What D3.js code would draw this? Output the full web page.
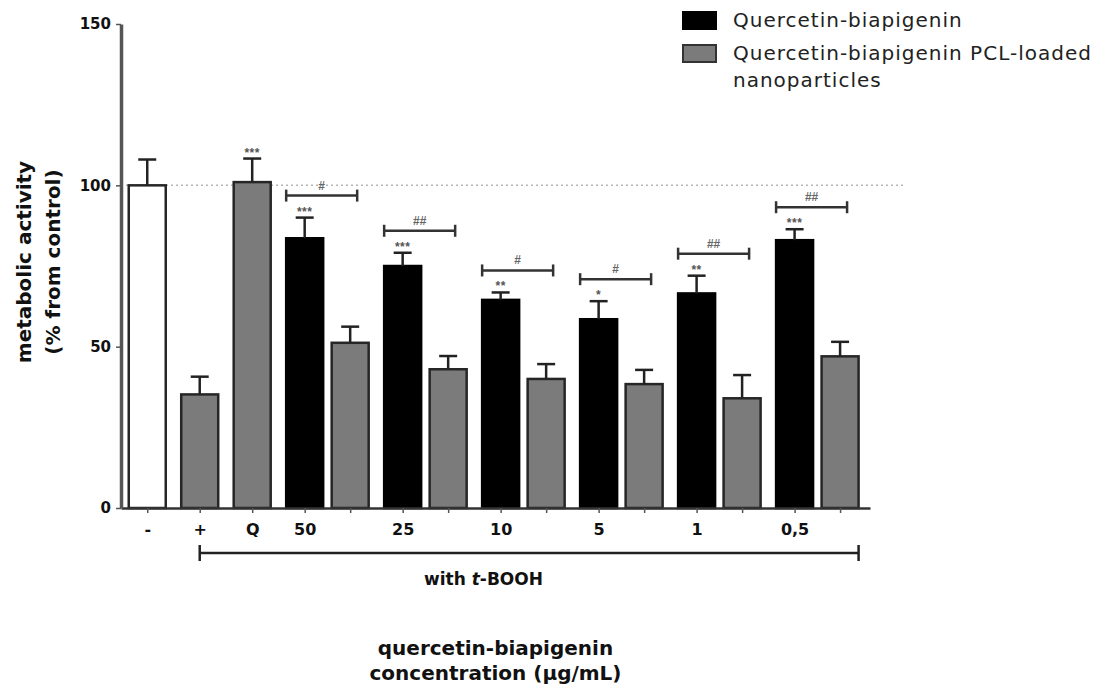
<!DOCTYPE html>
<html>
<head>
<meta charset="utf-8">
<script src="https://cdn.jsdelivr.net/npm/d3@7"></script>
<style>
body { margin: 0; background: #fff; }
svg { font-family: "DejaVu Sans", "Liberation Sans", Arial, sans-serif; }
</style>
</head>
<body>
<svg class="grafico" width="1106" height="685"></svg>
<script>
// dados
const barGroup  = ["-", "+", "Q", "50", "50", "25", "25", "10", "10", "5", "5", "1", "1", "0,5", "0,5"];
const barSeries = ["ctrl", "tbooh", "quercetin", "free", "nano", "free", "nano", "free", "nano", "free", "nano", "free", "nano", "free", "nano"];
const means     = [100, 35.2, 101, 83.6, 51.2, 75, 43, 64.5, 40, 58.5, 38.4, 66.5, 34, 83, 47];
const errors    = [8, 5.5, 7.3, 6.4, 5, 4.1, 4.1, 2.3, 4.6, 5.6, 4.4, 5.5, 7.2, 3.4, 4.5];
const stars     = ["", "", "***", "***", "", "***", "", "**", "", "*", "", "**", "", "***", ""];
const hashGroups = ["50", "25", "10", "5", "1", "0,5"];
const hashLabels = ["#", "##", "#", "#", "##", "##"];
const yTicks = [0, 50, 100, 150];
const legendLabels = [["Quercetin-biapigenin"], ["Quercetin-biapigenin PCL-loaded", "nanoparticles"]];

const width = 1106;
const height = 685;
const margin = { top: 24, right: 236, bottom: 177, left: 121 };
const fills = { ctrl: "#ffffff", tbooh: "#7b7b7b", quercetin: "#7b7b7b", free: "#000000", nano: "#7b7b7b" };
const boldFont = "DejaVu Sans, Liberation Sans, Arial, sans-serif";

// posicao de cada barra: barras do mesmo grupo ficam mais juntas
const innerRatio = 0.867;
const slots = [];
barGroup.forEach((g, i) => {
    if (i === 0) slots.push(0);
    else slots.push(slots[i - 1] + (g === barGroup[i - 1] ? innerRatio : 1));
});
const lastSlot = slots[slots.length - 1];

const bars = barGroup.map((g, i) => ({
    group: g, series: barSeries[i], mean: means[i], err: errors[i], stars: stars[i], slot: slots[i],
    first: i === 0 || g !== barGroup[i - 1]
}));

const svg = d3.select(".grafico");

const x = d3.scaleLinear()
    .domain([-0.5, lastSlot + 0.57])
    .range([margin.left, width - margin.right]);

const y = d3.scaleLinear()
    .domain([0, 150])
    .range([height - margin.bottom, margin.top]);

const barW = 37;

// linha pontilhada em 100%
svg.append("line")
    .attr("x1", margin.left)
    .attr("x2", width - margin.right + 36)
    .attr("y1", y(100))
    .attr("y2", y(100))
    .attr("stroke", "#b5b5b5")
    .attr("stroke-width", 1.5)
    .attr("stroke-dasharray", "2,3");

// barras
svg.append("g")
    .selectAll("rect")
    .data(bars)
    .join("rect")
    .attr("x", d => x(d.slot) - barW / 2)
    .attr("y", d => y(d.mean))
    .attr("width", barW)
    .attr("height", d => y(0) - y(d.mean))
    .attr("fill", d => fills[d.series])
    .attr("stroke", d => d.series === "free" ? "#000" : "#262626")
    .attr("stroke-width", 2.5);

// barras de erro
const eb = svg.append("g")
    .attr("stroke", "#222")
    .attr("stroke-width", 2.5);

eb.selectAll("line.v")
    .data(bars)
    .join("line")
    .attr("class", "v")
    .attr("x1", d => x(d.slot))
    .attr("x2", d => x(d.slot))
    .attr("y1", d => y(d.mean))
    .attr("y2", d => y(d.mean + d.err));

eb.selectAll("line.cap")
    .data(bars)
    .join("line")
    .attr("class", "cap")
    .attr("x1", d => x(d.slot) - 9)
    .attr("x2", d => x(d.slot) + 9)
    .attr("y1", d => y(d.mean + d.err))
    .attr("y2", d => y(d.mean + d.err));

// asteriscos
svg.append("g")
    .selectAll("text")
    .data(bars.filter(d => d.stars))
    .join("text")
    .attr("x", d => x(d.slot))
    .attr("y", d => y(d.mean + d.err) - 2)
    .attr("text-anchor", "middle")
    .attr("font-size", 12)
    .attr("font-weight", "bold")
    .attr("font-family", "Liberation Sans, Arial, sans-serif")
    .attr("letter-spacing", 0.5)
    .attr("fill", "#555")
    .text(d => d.stars);

// colchetes com #
const brackets = hashGroups.map((g, i) => {
    const pair = bars.filter(b => b.group === g);
    const top = y(pair[0].mean + pair[0].err) - 22;
    return { x1: x(pair[0].slot) - barW / 2, x2: x(pair[1].slot) + 7, y: top, label: hashLabels[i] };
});

const br = svg.append("g")
    .attr("stroke", "#333")
    .attr("stroke-width", 2.5);

br.selectAll("line.h")
    .data(brackets)
    .join("line")
    .attr("class", "h")
    .attr("x1", d => d.x1)
    .attr("x2", d => d.x2)
    .attr("y1", d => d.y)
    .attr("y2", d => d.y);

br.selectAll("line.l")
    .data(brackets)
    .join("line")
    .attr("class", "l")
    .attr("x1", d => d.x1)
    .attr("x2", d => d.x1)
    .attr("y1", d => d.y - 6)
    .attr("y2", d => d.y + 6);

br.selectAll("line.r")
    .data(brackets)
    .join("line")
    .attr("class", "r")
    .attr("x1", d => d.x2)
    .attr("x2", d => d.x2)
    .attr("y1", d => d.y - 6)
    .attr("y2", d => d.y + 6);

svg.append("g")
    .selectAll("text")
    .data(brackets)
    .join("text")
    .attr("x", d => (d.x1 + d.x2) / 2)
    .attr("y", d => d.y - 6)
    .attr("text-anchor", "middle")
    .attr("font-size", 12)
    .attr("font-weight", "bold")
    .attr("font-family", "Liberation Sans, Arial, sans-serif")
    .attr("fill", "#666")
    .text(d => d.label);

// eixo x
const xAxis = svg.append("g")
    .attr("transform", `translate(0, ${y(0)})`)
    .call(d3.axisBottom(x)
        .tickValues(slots)
        .tickSize(5)
        .tickSizeOuter(0)
        .tickPadding(11)
        .tickFormat((d, i) => bars[i].first ? bars[i].group : ""));

xAxis.select(".domain").attr("stroke", "#333").attr("stroke-width", 2.5);
xAxis.selectAll(".tick line").attr("stroke", "#555").attr("stroke-width", 1.5);
xAxis.selectAll(".tick text")
    .attr("font-size", 16)
    .attr("font-weight", "bold")
    .attr("fill", "#111")
    .attr("font-family", boldFont);

// eixo y
const yAxis = svg.append("g")
    .attr("transform", `translate(${margin.left}, 0)`)
    .call(d3.axisLeft(y)
        .tickValues(yTicks)
        .tickSize(5)
        .tickSizeOuter(0)
        .tickPadding(5));

yAxis.select(".domain").attr("stroke", "#555").attr("stroke-width", 3.5);
yAxis.selectAll(".tick line").attr("stroke", "#555").attr("stroke-width", 1.5);
yAxis.selectAll(".tick text")
    .attr("font-size", 15)
    .attr("font-weight", "bold")
    .attr("fill", "#111")
    .attr("font-family", boldFont);

// colchete "with t-BOOH"
const firstTreated = bars.find(d => d.group === "+");
const bx1 = x(firstTreated.slot);
const bx2 = x(lastSlot) + barW / 2;
const by = y(0) + 45;
const wb = svg.append("g").attr("stroke", "#222").attr("stroke-width", 2.5);
wb.append("line").attr("x1", bx1).attr("x2", bx2).attr("y1", by).attr("y2", by);
wb.append("line").attr("x1", bx1).attr("x2", bx1).attr("y1", by - 8).attr("y2", by + 8);
wb.append("line").attr("x1", bx2).attr("x2", bx2).attr("y1", by - 8).attr("y2", by + 8);

const centerX = (x.range()[0] + x.range()[1]) / 2;
const booh = svg.append("text")
    .attr("x", centerX - 12)
    .attr("y", by + 32)
    .attr("text-anchor", "middle")
    .attr("font-size", 17)
    .attr("font-weight", "bold")
    .attr("fill", "#111");
booh.append("tspan").text("with ");
booh.append("tspan").attr("font-style", "italic").text("t");
booh.append("tspan").text("-BOOH");

// titulo do eixo x
const xTitle = svg.append("text")
    .attr("text-anchor", "middle")
    .attr("font-size", 20)
    .attr("font-weight", "bold")
    .attr("fill", "#111");
xTitle.append("tspan").attr("x", centerX).attr("y", 655).text("quercetin-biapigenin");
xTitle.append("tspan").attr("x", centerX).attr("y", 680).text("concentration (µg/mL)");

// titulo do eixo y
const yTitle = svg.append("text")
    .attr("transform", `translate(0, ${(y(0) + y(150)) / 2 - 4}) rotate(-90)`)
    .attr("text-anchor", "middle")
    .attr("font-size", 20)
    .attr("font-weight", "bold")
    .attr("fill", "#111");
yTitle.append("tspan").attr("x", 0).attr("y", 31).text("metabolic activity");
yTitle.append("tspan").attr("x", 0).attr("y", 60).text("(% from control)");

// legenda
const legend = svg.append("g").attr("transform", "translate(683, 12)");
const legendFills = [fills.free, fills.nano];
legendLabels.forEach((lines, i) => {
    const row = legend.append("g").attr("transform", `translate(0, ${i * 33})`);
    row.append("rect")
        .attr("width", 33)
        .attr("height", 17)
        .attr("fill", legendFills[i])
        .attr("stroke", i === 0 ? "#000" : "#333")
        .attr("stroke-width", 2);
    const t = row.append("text")
        .attr("font-size", 20)
        .attr("letter-spacing", 1)
        .attr("fill", "#222");
    lines.forEach((line, j) => {
        t.append("tspan").attr("x", 50).attr("y", 15 + j * 27).text(line);
    });
});
</script>
</body>
</html>
